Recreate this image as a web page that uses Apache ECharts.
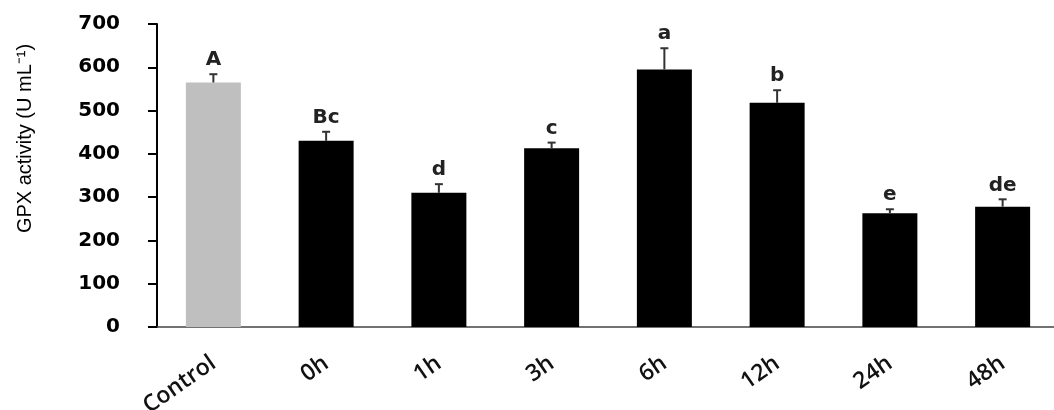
<!DOCTYPE html>
<html>
<head>
<meta charset="utf-8">
<script src="https://cdn.jsdelivr.net/npm/echarts@6/dist/echarts.min.js"></script>
<style>
html,body{margin:0;padding:0;background:#fff;}
#chart{width:1054px;height:410px;}
</style>
</head>
<body>
<div id="chart"></div>
<script>
const categories = ['Control', '0h', '1h', '3h', '6h', '12h', '24h', '48h'];
const means = [565, 430, 310, 413, 595, 518, 263, 278];
const errors = [19, 21, 20, 13, 49, 29, 9, 17];
const letters = ['A', 'Bc', 'd', 'c', 'a', 'b', 'e', 'de'];
const yTicks = [0, 100, 200, 300, 400, 500, 600, 700];
const yTitle = 'GPX activity (U mL\u207B\u00B9)';

const barColors = ['#bfbfbf', '#000', '#000', '#000', '#000', '#000', '#000', '#000'];

const errData = means.map((m, i) => [i, m, m + errors[i], letters[i]]);

const chart = echarts.init(document.getElementById('chart'));
chart.setOption({
  animation: false,
  backgroundColor: '#fff',
  grid: {left: 157, top: 24, width: 902, height: 303, containLabel: false, outerBoundsMode: 'none'},
  xAxis: {
    type: 'category',
    data: categories,
    axisLine: {lineStyle: {color: '#444', width: 1.5}},
    axisTick: {alignWithLabel: true, length: 4, lineStyle: {color: '#222', width: 2}},
    axisLabel: {
      rotate: 35, margin: 34, color: '#111',
      fontFamily: 'Open Sans', fontWeight: 600, fontSize: 23
    }
  },
  yAxis: {
    type: 'value',
    min: yTicks[0], max: yTicks[yTicks.length - 1], interval: 100,
    splitLine: {show: false},
    axisLine: {show: true, lineStyle: {color: '#000', width: 2}},
    axisTick: {show: true, length: 9, lineStyle: {color: '#000', width: 2}},
    axisLabel: {
      margin: 37, color: '#000',
      fontFamily: 'DejaVu Sans', fontWeight: 'bold', fontSize: 20
    },
    name: yTitle,
    nameLocation: 'middle',
    nameRotate: 90,
    nameGap: 122,
    nameTextStyle: {
      fontFamily: 'Liberation Sans', fontSize: 20, color: '#000',
      padding: [0, 0, 0, 74]
    }
  },
  series: [
    {
      type: 'bar',
      data: means.map((v, i) => ({value: v, itemStyle: {color: barColors[i]}})),
      barWidth: 55
    },
    {
      type: 'custom',
      data: errData,
      encode: {x: 0, y: [1, 2]},
      z: 5,
      renderItem: function (params, api) {
        const idx = api.value(0);
        const top = api.coord([idx, api.value(2)]);
        const base = api.coord([idx, api.value(1)]);
        const label = letters[params.dataIndex];
        const cap = 4;
        return {
          type: 'group',
          children: [
            {type: 'line', shape: {x1: top[0], y1: base[1], x2: top[0], y2: top[1]},
             style: {stroke: '#333', lineWidth: 2}},
            {type: 'line', shape: {x1: top[0] - cap, y1: top[1], x2: top[0] + cap, y2: top[1]},
             style: {stroke: '#333', lineWidth: 2}},
            {type: 'text', x: top[0], y: top[1] - 4,
             style: {text: label, fill: '#222', font: 'bold 20px "DejaVu Sans"',
                     textAlign: 'center', textVerticalAlign: 'bottom'}}
          ]
        };
      }
    }
  ]
});
</script>
</body>
</html>
